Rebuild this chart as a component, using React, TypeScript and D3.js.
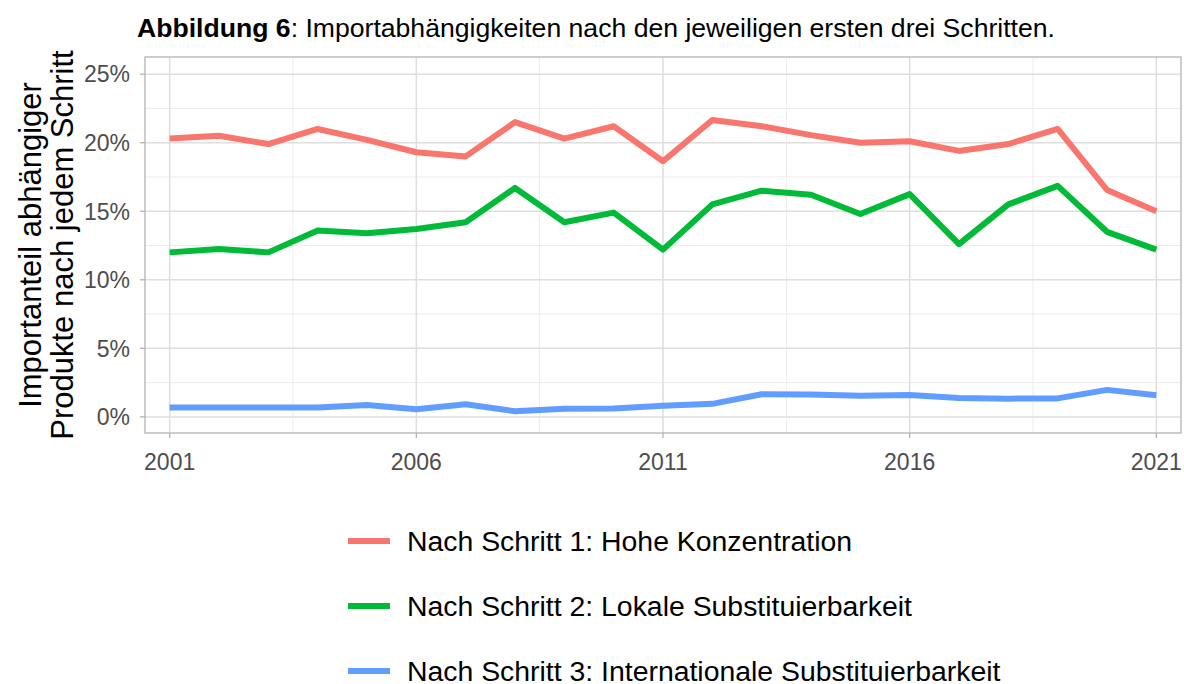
import React from "react";
import * as d3 from "d3";

const years = [2001,2002,2003,2004,2005,2006,2007,2008,2009,2010,2011,2012,2013,2014,2015,2016,2017,2018,2019,2020,2021];
const step1 = [20.3,20.5,19.9,21.0,20.2,19.3,19.0,21.5,20.3,21.2,18.65,21.65,21.2,20.55,20.0,20.1,19.4,19.9,21.0,16.55,15.0];
const step2 = [12.0,12.25,12.0,13.6,13.4,13.7,14.2,16.7,14.2,14.9,12.2,15.5,16.5,16.2,14.8,16.25,12.6,15.5,16.85,13.5,12.2];
const step3 = [0.68,0.68,0.68,0.68,0.87,0.56,0.92,0.41,0.6,0.62,0.82,0.95,1.65,1.63,1.55,1.6,1.38,1.33,1.35,1.97,1.58];
const seriesNames = [
  "Nach Schritt 1: Hohe Konzentration",
  "Nach Schritt 2: Lokale Substituierbarkeit",
  "Nach Schritt 3: Internationale Substituierbarkeit",
];
const seriesColors = ["#F8766D", "#00BA38", "#619CFF"];
const xTicks = [2001, 2006, 2011, 2016, 2021];
const yTicks = [0, 5, 10, 15, 20, 25];

const FONT = "'Liberation Sans', Arial, sans-serif";

export default function App() {
  const W = 1184, H = 684;
  const left = 145, right = 1181, top = 57, bottom = 433;
  const x = d3.scaleLinear().domain([2000.5, 2021.5]).range([left, right]);
  const y = d3.scaleLinear().domain([-1.175, 26.25]).range([bottom, top]);
  const allSeries = [step1, step2, step3];
  const line = d3.line<number>().x((_, i) => x(years[i])).y((d) => y(d));
  const minorX = [2003.5, 2008.5, 2013.5, 2018.5];
  const minorY = [2.5, 7.5, 12.5, 17.5, 22.5];

  return (
    <svg width={W} height={H} style={{ position: "absolute", left: 0, top: 0, background: "#fff" }}>
      <rect x={0} y={0} width={W} height={H} fill="#fff" />
      {minorX.map((v) => (
        <line key={"mx" + v} x1={x(v)} x2={x(v)} y1={top} y2={bottom} stroke="#ebebeb" strokeWidth={1} />
      ))}
      {minorY.map((v) => (
        <line key={"my" + v} x1={left} x2={right} y1={y(v)} y2={y(v)} stroke="#ebebeb" strokeWidth={1} />
      ))}
      {xTicks.map((v) => (
        <line key={"gx" + v} x1={x(v)} x2={x(v)} y1={top} y2={bottom} stroke="#dedede" strokeWidth={1.5} />
      ))}
      {yTicks.map((v) => (
        <line key={"gy" + v} x1={left} x2={right} y1={y(v)} y2={y(v)} stroke="#dedede" strokeWidth={1.5} />
      ))}
      {allSeries.map((s, i) => (
        <path key={"s" + i} d={line(s) || ""} fill="none" stroke={seriesColors[i]} strokeWidth={6} strokeLinejoin="round" />
      ))}
      <rect x={left} y={top} width={right - left} height={bottom - top} fill="none" stroke="#b3b3b3" strokeWidth={1.3} />
      {xTicks.map((v) => (
        <g key={"tx" + v}>
          <line x1={x(v)} x2={x(v)} y1={bottom} y2={bottom + 5} stroke="#b3b3b3" strokeWidth={1.3} />
          <text x={x(v)} y={bottom + 37} textAnchor="middle" fontSize={23} fontFamily={FONT} fill="#4d4d4d">{v}</text>
        </g>
      ))}
      {yTicks.map((v) => (
        <g key={"ty" + v}>
          <line x1={left - 5} x2={left} y1={y(v)} y2={y(v)} stroke="#b3b3b3" strokeWidth={1.3} />
          <text x={left - 15} y={y(v)} dy="0.36em" textAnchor="end" fontSize={23} fontFamily={FONT} fill="#4d4d4d">{v + "%"}</text>
        </g>
      ))}
      <g transform={`translate(0, ${(top + bottom) / 2}) rotate(-90)`}>
        <text x={0} y={41} textAnchor="middle" fontSize={31} fontFamily={FONT} fill="#000">Importanteil abhängiger</text>
        <text x={0} y={73} textAnchor="middle" fontSize={31} fontFamily={FONT} fill="#000">Produkte nach jedem Schritt</text>
      </g>
      <text x={137} y={37} fontSize={26.6} fontFamily={FONT} fill="#000">
        <tspan fontWeight="bold">Abbildung 6</tspan>
        <tspan>: Importabhängigkeiten nach den jeweiligen ersten drei Schritten.</tspan>
      </text>
      {seriesNames.map((n, i) => (
        <g key={"lg" + i} transform={`translate(0, ${541 + i * 65})`}>
          <line x1={348} x2={390} y1={0} y2={0} stroke={seriesColors[i]} strokeWidth={6} />
          <text x={407} y={0} dy="0.36em" fontSize={28.4} fontFamily={FONT} fill="#000">{n}</text>
        </g>
      ))}
    </svg>
  );
}
